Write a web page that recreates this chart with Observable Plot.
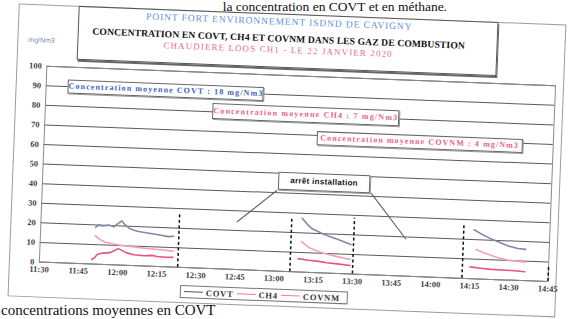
<!DOCTYPE html>
<html><head><meta charset="utf-8">
<script src="https://cdn.jsdelivr.net/npm/d3@7"></script>
<script src="https://cdn.jsdelivr.net/npm/@observablehq/plot@0.6"></script>
<style>
html,body{margin:0;padding:0;background:#fff;}
#page{position:relative;width:575px;height:319px;overflow:hidden;background:#fff;font-family:"Liberation Serif",serif;}
#sheet{position:absolute;left:0;top:0;width:575px;height:319px;transform:rotate(2.2deg);transform-origin:287.5px 159.5px;}
#frame{position:absolute;left:13px;top:14px;width:548px;height:293px;border:1px solid #9c9c9c;box-sizing:border-box;}
#chart{position:absolute;left:0;top:0;}
#chart svg text{font-weight:bold;}
#title{position:absolute;left:73px;top:14px;width:420px;height:54px;border:1px solid #555;box-sizing:border-box;background:#fff;box-shadow:1px 2px 0 #666;}
#title div{position:absolute;left:0;width:400px;text-align:center;white-space:nowrap;line-height:1;}
#t1{top:3px;color:#5e92da;font-size:9.5px;letter-spacing:0.9px;}
#t2{top:19px;color:#111;font-size:9.6px;font-weight:bold;letter-spacing:0.1px;}
#t3{top:31px;color:#e8668a;font-size:8.8px;letter-spacing:1.2px;}
#ylab{position:absolute;left:24px;top:46px;font-size:7px;color:#7b8aa5;font-family:"Liberation Sans",sans-serif;}
.note{position:absolute;transform:translate(-50%,-50%);background:#fff;border:1px solid #666;box-shadow:1px 1px 0 #999;white-space:nowrap;text-align:center;font-weight:bold;box-sizing:border-box;line-height:1;}
.n0{color:#3d63b8;font-size:8px;letter-spacing:1.1px;width:196px;padding:2px 0;}
.n1{color:#e8608a;font-size:8px;letter-spacing:1.2px;width:187px;padding:3px 0;}
.n2{color:#e8608a;font-size:8px;letter-spacing:1.1px;width:206px;padding:2px 0;}
.n3{color:#111;font-size:8px;font-family:"Liberation Sans",sans-serif;letter-spacing:0.3px;width:92px;padding:4px 0;}
#legend{position:absolute;left:185px;top:289px;width:168px;height:13px;border:1px solid #777;box-sizing:border-box;background:#fff;display:flex;align-items:center;font-size:8.5px;font-weight:bold;color:#333;letter-spacing:0.8px;}
#legend span.l{display:inline-block;width:19px;height:0;border-top:1.6px solid;margin:0 3px 0 3px;}
#doc{position:absolute;left:0;top:0;}
</style></head><body>
<div id="page">
  <svg id="doc" width="575" height="319">
    <text id="dtop" x="447" y="11" text-anchor="end" font-family="Liberation Serif" font-size="13.5" fill="#111"></text>
    <text id="dbot" x="1" y="315" font-family="Liberation Serif" font-size="15" fill="#111"></text>
  </svg>
  <div id="sheet">
    <div id="frame"></div>
    <div id="chart"></div>
    <div id="title"><div id="t1"></div><div id="t2"></div><div id="t3"></div></div>
    <div id="ylab"></div>
    <div id="legend"></div>
  </div>
</div>
<script>
// ---- texts ----
const titleLines = ["POINT FORT ENVIRONNEMENT  ISDND DE CAVIGNY",
  "CONCENTRATION EN COVT, CH4 ET COVNM DANS LES GAZ DE COMBUSTION",
  "CHAUDIERE LOOS CH1 - LE 22 JANVIER 2020"];
const yUnit = "mg/Nm3";
const docTop = "la concentration en COVT et en méthane.";
const docBottom = "concentrations moyennes en COVT";

// ---- axes ----
const xTickLabels = ["11:30","11:45","12:00","12:15","12:30","12:45","13:00","13:15","13:30","13:45","14:00","14:15","14:30","14:45"];
const yTicks = [0,10,20,30,40,50,60,70,80,90,100];

// ---- series ----
const series = ["COVT","CH4","COVNM"];
const covtTime  = ["11:51","11:52","11:54","11:56","11:58","11:59","12:01","12:02","12:04","12:07","12:11","12:15","12:19","12:21",
                   "13:10","13:12","13:14","13:18","13:21","13:24","13:29",
                   "14:16","14:19","14:22","14:26","14:29","14:33","14:36"];
const covtValue = [18.8,20.0,19.7,20.2,19.4,20.6,22.6,21.0,18.9,17.6,16.9,16.2,15.5,15.8,
                   27.5,24.5,22.3,20.0,18.6,17.4,15.0,
                   25.0,22.8,21.0,19.0,17.5,16.3,16.0];
const ch4Time   = ["11:51","11:53","11:55","11:58","12:01","12:04","12:08","12:12","12:16","12:21",
                   "13:10","13:13","13:16","13:18","13:21","13:24","13:29",
                   "14:17","14:20","14:22","14:26","14:29","14:33","14:36"];
const ch4Value  = [14.5,12.6,11.4,10.6,10.2,9.8,9.3,8.9,8.6,8.2,
                   15.5,12.6,11.2,10.3,9.4,8.6,7.4,
                   15.0,13.5,12.6,11.0,10.2,9.8,9.5];
const covnmTime = ["11:50","11:51","11:52","11:54","11:57","11:59","12:00","12:01","12:03","12:06","12:10","12:13","12:15","12:18","12:21",
                   "13:09","13:13","13:17","13:20","13:24","13:29",
                   "14:15","14:19","14:23","14:29","14:33","14:36"];
const covnmValue= [2.3,3.2,5.0,5.8,6.2,7.6,8.4,7.8,6.5,5.6,5.3,5.6,5.1,4.9,5.0,
                   6.8,6.2,5.8,5.3,4.9,4.3,
                   6.0,5.5,5.1,5.0,4.8,4.6];

// ---- stops (arrêt installation) ----
const stopTime = ["12:23","13:06","13:30","14:12","14:45"];
const stopTop  = [28,27,28.5,27,7.5];

// ---- annotations ----
const noteText  = ["Concentration moyenne COVT : 18 mg/Nm3","Concentration moyenne CH4 : 7 mg/Nm3","Concentration moyenne COVNM : 4 mg/Nm3","arrêt installation"];
const noteTime  = ["12:16","13:10","13:54","13:18"];
const noteValue = [90,80,68.3,45.8];
const leaderFromTime  = ["13:00","13:36"];
const leaderFromValue = [41.3,41.6];
const leaderToTime    = ["12:45","13:50"];
const leaderToValue   = [24.3,18.8];

// ---- build ----
const parse = d3.utcParse("%H:%M");
function build(name, times, values){
  let seg = 0, prev = null;
  return times.map((t,i)=>{
    const d = parse(t);
    if (prev && (d - prev) > 10*60000) seg++;
    prev = d;
    return {series:name, key:name+"-"+seg, time:d, value:values[i]};
  });
}
const data = [].concat(build("COVT",covtTime,covtValue), build("CH4",ch4Time,ch4Value), build("COVNM",covnmTime,covnmValue));
const colors = ["#7f8ba5","#f2a0b8","#e9557f"];
const xTicks = xTickLabels.map(parse);

const chart = Plot.plot({
  width:575, height:319,
  marginLeft:43, marginRight:23, marginTop:75, marginBottom:48,
  style:{background:"transparent", fontFamily:"Liberation Serif", fontSize:"8.5px", color:"#444", overflow:"visible"},
  x:{type:"utc", domain:[xTicks[0], xTicks[xTicks.length-1]], ticks:xTicks, tickFormat:d3.utcFormat("%H:%M"), tickSize:0, tickPadding:4, label:null},
  y:{domain:[0,100], ticks:yTicks, tickSize:0, tickPadding:5, label:null},
  color:{domain:series, range:colors},
  marks:[
    Plot.ruleY(yTicks, {stroke:"#5a5a5a", strokeWidth:1}),
    Plot.frame({stroke:"#8a8a8a"}),
    Plot.ruleX(d3.range(stopTime.length), {x:i=>parse(stopTime[i]), y1:0, y2:i=>stopTop[i], stroke:"#111", strokeWidth:1.5, strokeDasharray:"3,2.5"}),
    Plot.link(d3.range(leaderFromTime.length), {x1:i=>parse(leaderFromTime[i]), y1:i=>leaderFromValue[i], x2:i=>parse(leaderToTime[i]), y2:i=>leaderToValue[i], stroke:"#666", strokeWidth:1.2}),
    Plot.line(data, {x:"time", y:"value", z:"key", stroke:"series", strokeWidth:1.6})
  ]
});
document.getElementById("chart").appendChild(chart);

const sx = chart.scale("x"), sy = chart.scale("y");
const sheet = document.getElementById("sheet");
noteText.forEach((t,i)=>{
  const el = document.createElement("div");
  el.className = "note n"+i;
  el.textContent = t;
  el.style.left = sx.apply(parse(noteTime[i]))+"px";
  el.style.top = sy.apply(noteValue[i])+"px";
  sheet.appendChild(el);
});

document.getElementById("t1").textContent = titleLines[0];
document.getElementById("t2").textContent = titleLines[1];
document.getElementById("t3").textContent = titleLines[2];
document.getElementById("ylab").textContent = yUnit;
document.getElementById("dtop").textContent = docTop;
document.getElementById("dbot").textContent = docBottom;

const legend = document.getElementById("legend");
const legendColors = ["#555","#e8789a","#ee7fa0"];
series.forEach((s,i)=>{
  const l = document.createElement("span"); l.className="l"; l.style.borderColor = legendColors[i];
  const t = document.createElement("span"); t.textContent = s;
  legend.appendChild(l); legend.appendChild(t);
});
</script>
</body></html>
